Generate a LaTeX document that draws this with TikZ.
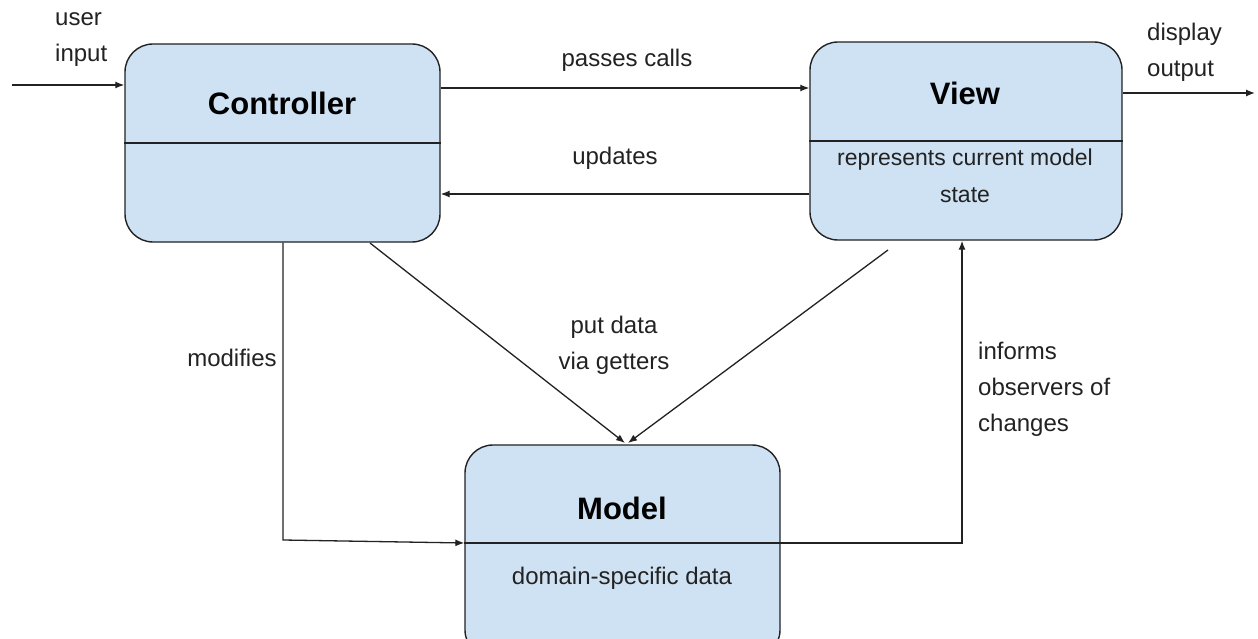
\documentclass[tikz,border=0pt]{standalone}
\usepackage{fontspec}
\setmainfont{Liberation Sans}
\usetikzlibrary{arrows.meta,calc}
\definecolor{boxblue}{HTML}{CFE2F3}
\definecolor{ink}{HTML}{222222}
\tikzset{
  mvcbox/.style={draw=ink,fill=boxblue,line width=1.4pt,rounded corners=28pt,inner sep=0pt},
  title/.style={font=\fontsize{31}{36}\selectfont\bfseries,text=black},
  lbl/.style={font=\fontsize{24}{36}\selectfont,text=ink,inner sep=0pt},
  conn/.style={draw=ink,line width=1.3pt},
  arr/.style={conn,-{Latex[length=9pt,width=7pt]}},
}
\begin{document}
\begin{tikzpicture}[x=1pt,y=-1pt]
\useasboundingbox[fill=white] (0,0) rectangle (1258,639);
\begin{scope}
\clip (0,0) rectangle (1258,639);
% boxes
\node[mvcbox,minimum width=315pt,minimum height=198pt] (ctrl) at (282.5,143) {};
\node[mvcbox,minimum width=312pt,minimum height=198pt] (view) at (966,141) {};
\node[mvcbox,minimum width=315pt,minimum height=213pt] (model) at (622.5,551.5) {};
\end{scope}
% dividers
\draw[conn] (ctrl.west |- 0,143) -- (ctrl.east |- 0,143);
\draw[conn] (view.west |- 0,141) -- (view.east |- 0,141);
% titles
\node[title] (tctrl) at (282,103) {Controller};
\node[title] (tview) at (965,93) {View};
\node[title] (tmodel) at (622,508) {Model};
\node[lbl,font=\fontsize{23}{37}\selectfont,align=center] (tvrep) at (965,176) {represents current model\\state};
\node[lbl] (tmdata) at (622,578) {domain-specific data};
% coordinates for free ends
\coordinate (uin) at (12,85);
\coordinate (dout) at (1255,93);
\coordinate (modc) at (283,540);
\coordinate (infc) at (962,543);
% connectors
\draw[arr] (uin) -- (ctrl.west |- uin);
\draw[arr] (ctrl.east |- 0,88) -- (view.west |- 0,88);
\draw[arr] (view.west |- 0,194) -- (ctrl.east |- 0,194);
\draw[arr] (view.east |- dout) -- (dout);
\draw[arr] (ctrl.south -| modc) -- (modc) -- (model.west |- 0,543);
\draw[arr] (370,243) -- (625,443);
\draw[arr] (888,250) -- (628,443);
\draw[conn] (model.west |- 0,543) -- (model.east |- 0,543);
\draw[arr] (model.east |- infc) -- (infc) -- (infc |- view.south);
% labels
\node[lbl,align=left,anchor=west] (luser) at (55,40) {user\\input};
\node[lbl] (lpass) at (627,60) {passes calls};
\node[lbl] (lupd) at (615,158) {updates};
\node[lbl,align=left,anchor=west] (ldisp) at (1147,52) {display\\output};
\node[lbl] (lmod) at (232,358) {modifies};
\node[lbl,align=center] (lput) at (614,345) {put data\\via getters};
\node[lbl,align=left,anchor=west] (linf) at (978,389) {informs\\observers of\\changes};
\end{tikzpicture}
\end{document}
